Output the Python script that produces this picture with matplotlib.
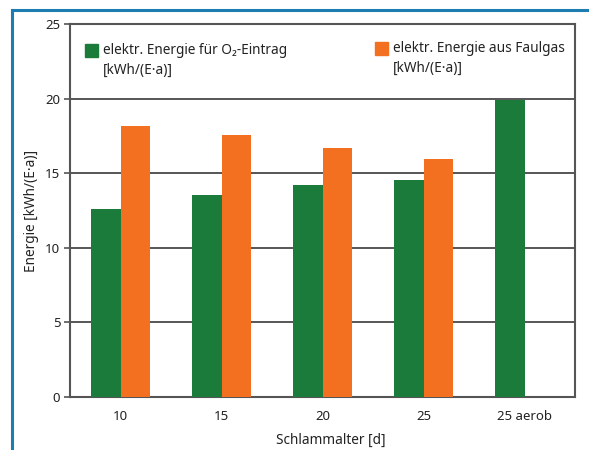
import matplotlib
matplotlib.use("Agg")
import matplotlib.pyplot as plt
import matplotlib.patches as patches
from matplotlib.lines import Line2D
import numpy as np

plt.rcParams['font.family'] = ['Noto Sans', 'DejaVu Sans']

# Schlammalter und elektrische Energie je Einwohner und Jahr
kategorien = ['10', '15', '20', '25', '25 aerob']
energie_o2 = [12.6, 13.55, 14.2, 14.55, 19.9]
energie_faulgas = [18.15, 17.55, 16.7, 15.95, None]

gruen = '#1b7b3a'
orange = '#f37021'
blau = '#1e7db0'

fig = plt.figure(figsize=(5.89, 4.5), dpi=100)
ax = fig.add_axes([70 / 589, 53 / 450, 505 / 589, 373 / 450])

x = np.arange(len(kategorien))
breite = 0.295
ax.bar(x - breite / 2, energie_o2, width=breite, color=gruen, zorder=3)
faul_x = [xi for xi, v in zip(x, energie_faulgas) if v is not None]
faul_y = [v for v in energie_faulgas if v is not None]
ax.bar(np.array(faul_x) + breite / 2, faul_y, width=breite, color=orange, zorder=3)

ax.set_xlim(-0.5, len(kategorien) - 0.5)
ax.set_ylim(0, 25)
ax.set_yticks([0, 5, 10, 15, 20, 25])
ax.set_xticks(x)
ax.set_xticklabels(kategorien)
ax.tick_params(axis='x', length=0, pad=9, labelsize=9.5, colors='#222222')
ax.tick_params(axis='y', length=4, width=1.2, pad=3, labelsize=9.5,
               color='#555555', labelcolor='#222222')

for y in [5, 10, 15, 20]:
    ax.axhline(y, color='#3a3a3a', lw=1.2, zorder=1)

for s in ax.spines.values():
    s.set_color('#555555')
    s.set_linewidth(1.5)

ax.set_xlabel('Schlammalter [d]', fontsize=9.8, color='#222222')
ax.xaxis.set_label_coords(261 / 505, -36 / 373)
ax.set_ylabel('Energie [kWh/(E·a)]', fontsize=9.8, color='#222222')
ax.yaxis.set_label_coords(-31 / 505, 0.5)

# Legende als Quadrate mit zweizeiligem Text
fig.add_artist(patches.Rectangle((85 / 589, 1 - 57 / 450), 13 / 589, 13 / 450,
                                 transform=fig.transFigure, color=gruen))
fig.text(103 / 589, 1 - 43 / 450, 'elektr. Energie für O₂-Eintrag\n[kWh/(E·a)]',
         fontsize=9.8, color='#222222', va='top', ha='left', linespacing=1.45)
fig.add_artist(patches.Rectangle((375 / 589, 1 - 55 / 450), 13 / 589, 13 / 450,
                                 transform=fig.transFigure, color=orange))
fig.text(393 / 589, 1 - 41 / 450, 'elektr. Energie aus Faulgas\n[kWh/(E·a)]',
         fontsize=9.8, color='#222222', va='top', ha='left', linespacing=1.45)

# blauer Rahmen links und oben
fig.add_artist(Line2D([12 / 589, 12 / 589], [0, 1 - 10 / 450], color=blau, lw=2.2,
                      transform=fig.transFigure))
fig.add_artist(Line2D([12 / 589, 1], [1 - 10 / 450, 1 - 10 / 450], color=blau, lw=2.2,
                      transform=fig.transFigure))

fig.savefig('out.png', dpi=100)
